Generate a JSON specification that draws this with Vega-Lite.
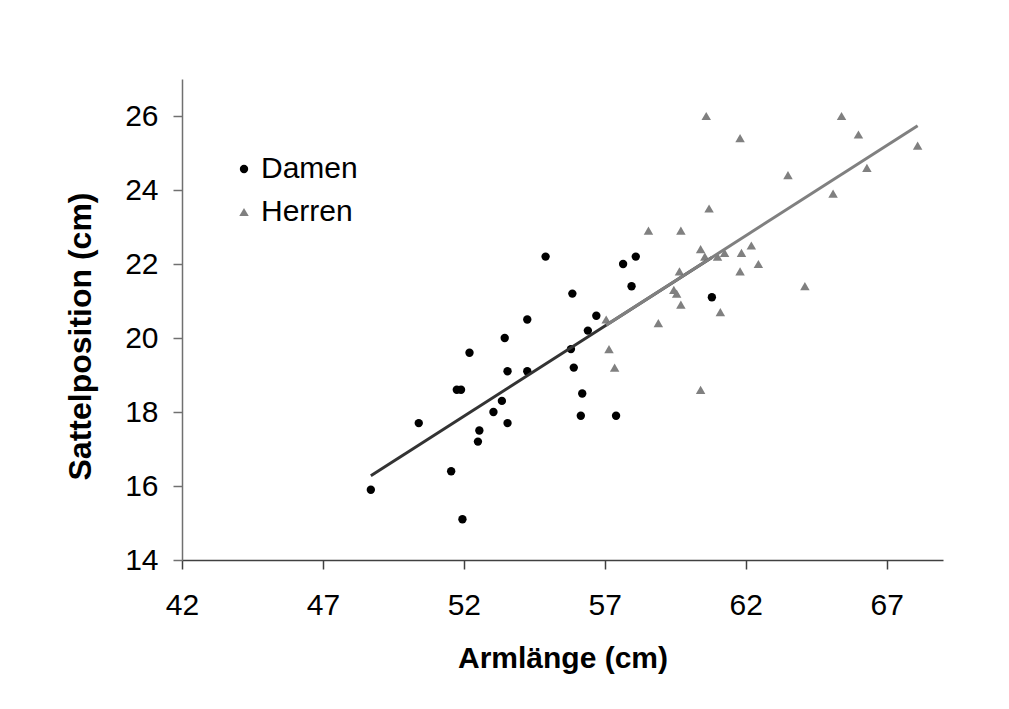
{
  "$schema": "https://vega.github.io/schema/vega-lite/v6.json",
  "width": 761,
  "height": 481,
  "autosize": "none",
  "padding": {"left": 182, "top": 79, "right": 66, "bottom": 149},
  "background": "white",
  "config": {
    "view": {"stroke": null},
    "font": "Liberation Sans",
    "axis": {"grid": false, "labelColor": "#000000", "titleColor": "#000000", "labelFontWeight": "normal"}
  },
  "datasets": {
    "pts": [
      {"x": 48.7, "y": 15.9, "g": "Damen"},
      {"x": 50.4, "y": 17.7, "g": "Damen"},
      {"x": 51.55, "y": 16.4, "g": "Damen"},
      {"x": 51.95, "y": 15.1, "g": "Damen"},
      {"x": 51.75, "y": 18.6, "g": "Damen"},
      {"x": 51.9, "y": 18.6, "g": "Damen"},
      {"x": 52.2, "y": 19.6, "g": "Damen"},
      {"x": 52.55, "y": 17.5, "g": "Damen"},
      {"x": 52.5, "y": 17.2, "g": "Damen"},
      {"x": 53.05, "y": 18.0, "g": "Damen"},
      {"x": 53.35, "y": 18.3, "g": "Damen"},
      {"x": 53.45, "y": 20.0, "g": "Damen"},
      {"x": 53.55, "y": 19.1, "g": "Damen"},
      {"x": 53.55, "y": 17.7, "g": "Damen"},
      {"x": 54.25, "y": 20.5, "g": "Damen"},
      {"x": 54.25, "y": 19.1, "g": "Damen"},
      {"x": 54.9, "y": 22.2, "g": "Damen"},
      {"x": 55.85, "y": 21.2, "g": "Damen"},
      {"x": 55.8, "y": 19.7, "g": "Damen"},
      {"x": 55.9, "y": 19.2, "g": "Damen"},
      {"x": 56.4, "y": 20.2, "g": "Damen"},
      {"x": 56.7, "y": 20.6, "g": "Damen"},
      {"x": 56.2, "y": 18.5, "g": "Damen"},
      {"x": 56.15, "y": 17.9, "g": "Damen"},
      {"x": 57.4, "y": 17.9, "g": "Damen"},
      {"x": 57.95, "y": 21.4, "g": "Damen"},
      {"x": 57.65, "y": 22.0, "g": "Damen"},
      {"x": 58.1, "y": 22.2, "g": "Damen"},
      {"x": 60.8, "y": 21.1, "g": "Damen"},
      {"x": 57.05, "y": 20.5, "g": "Herren"},
      {"x": 57.15, "y": 19.7, "g": "Herren"},
      {"x": 57.35, "y": 19.2, "g": "Herren"},
      {"x": 58.55, "y": 22.9, "g": "Herren"},
      {"x": 58.9, "y": 20.4, "g": "Herren"},
      {"x": 59.45, "y": 21.3, "g": "Herren"},
      {"x": 59.55, "y": 21.2, "g": "Herren"},
      {"x": 59.65, "y": 21.8, "g": "Herren"},
      {"x": 59.7, "y": 22.9, "g": "Herren"},
      {"x": 59.7, "y": 20.9, "g": "Herren"},
      {"x": 60.4, "y": 22.4, "g": "Herren"},
      {"x": 60.4, "y": 18.6, "g": "Herren"},
      {"x": 60.55, "y": 22.2, "g": "Herren"},
      {"x": 60.6, "y": 26.0, "g": "Herren"},
      {"x": 60.7, "y": 23.5, "g": "Herren"},
      {"x": 61.0, "y": 22.2, "g": "Herren"},
      {"x": 61.1, "y": 20.7, "g": "Herren"},
      {"x": 61.25, "y": 22.3, "g": "Herren"},
      {"x": 61.8, "y": 25.4, "g": "Herren"},
      {"x": 61.8, "y": 21.8, "g": "Herren"},
      {"x": 61.85, "y": 22.3, "g": "Herren"},
      {"x": 62.2, "y": 22.5, "g": "Herren"},
      {"x": 62.45, "y": 22.0, "g": "Herren"},
      {"x": 63.5, "y": 24.4, "g": "Herren"},
      {"x": 64.1, "y": 21.4, "g": "Herren"},
      {"x": 65.1, "y": 23.9, "g": "Herren"},
      {"x": 65.4, "y": 26.0, "g": "Herren"},
      {"x": 66.0, "y": 25.5, "g": "Herren"},
      {"x": 66.3, "y": 24.6, "g": "Herren"},
      {"x": 68.1, "y": 25.2, "g": "Herren"}
    ]
  },
  "data": {"name": "pts"},
  "layer": [
    {
      "mark": {"type": "point", "filled": true, "opacity": 1, "strokeWidth": 0},
      "encoding": {
        "x": {
          "field": "x", "type": "quantitative",
          "scale": {"domain": [42, 69], "nice": false, "zero": false},
          "axis": {
            "values": [42, 47, 52, 57, 62, 67],
            "title": "Armlänge (cm)",
            "tickSize": 9, "labelFontSize": 30, "labelPadding": 21,
            "labelFlush": false, "labelOverlap": false,
            "titleFontSize": 30, "titleFontWeight": "bold", "titlePadding": 23,
            "domainColor": "#404040", "tickColor": "#404040", "domainWidth": 1.5, "tickWidth": 1.5
          }
        },
        "y": {
          "field": "y", "type": "quantitative",
          "scale": {"domain": [14, 27], "nice": false, "zero": false},
          "axis": {
            "values": [14, 16, 18, 20, 22, 24, 26],
            "title": "Sattelposition (cm)",
            "tickSize": 9, "labelFontSize": 30, "labelPadding": 15,
            "labelFlush": false, "labelOverlap": false,
            "titleFontSize": 32, "titleFontWeight": "bold",
            "titleX": -92, "titleY": 257, "titleBaseline": "alphabetic", "titleAngle": -90, "titleAlign": "center",
            "domainColor": "#707070", "tickColor": "#707070", "domainWidth": 1.5, "tickWidth": 1.5
          }
        },
        "color": {
          "field": "g", "type": "nominal",
          "scale": {"domain": ["Damen", "Herren"], "range": ["#000000", "#808080"]},
          "legend": {
            "title": null, "orient": "none", "legendX": 47, "legendY": 75,
            "labelFontSize": 30, "labelColor": "#000000", "symbolSize": 60,
            "rowPadding": 13, "labelOffset": 2, "padding": 0, "symbolStrokeWidth": 0
          }
        },
        "shape": {
          "field": "g", "type": "nominal",
          "scale": {"domain": ["Damen", "Herren"], "range": ["circle", "triangle-up"]}
        },
        "size": {
          "field": "g", "type": "nominal",
          "scale": {"domain": ["Damen", "Herren"], "range": [70, 90]},
          "legend": null
        }
      }
    },
    {
      "transform": [{"regression": "y", "on": "x", "extent": [48.7, 60.8]}],
      "mark": {"type": "line", "color": "#333333", "strokeWidth": 3},
      "encoding": {
        "x": {"field": "x", "type": "quantitative"},
        "y": {"field": "y", "type": "quantitative"}
      }
    },
    {
      "transform": [{"regression": "y", "on": "x", "extent": [57.05, 68.1]}],
      "mark": {"type": "line", "color": "#808080", "strokeWidth": 3},
      "encoding": {
        "x": {"field": "x", "type": "quantitative"},
        "y": {"field": "y", "type": "quantitative"}
      }
    }
  ]
}
